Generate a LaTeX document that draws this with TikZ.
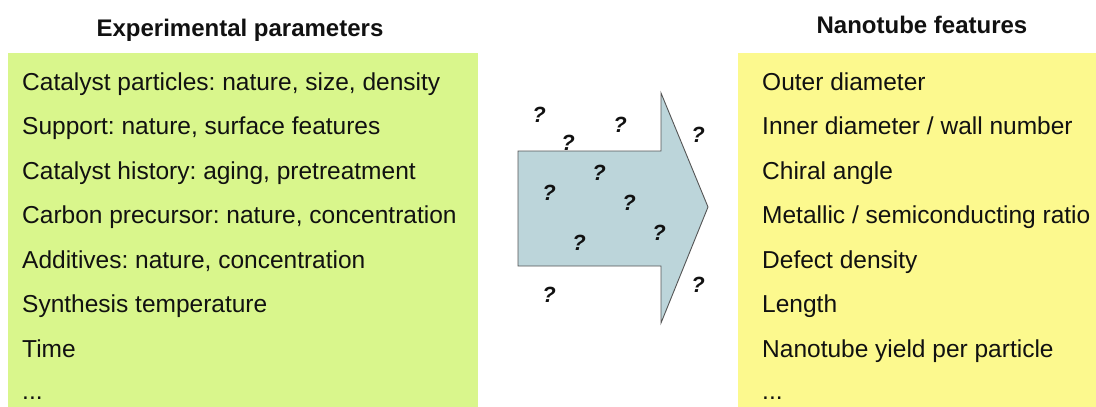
\documentclass[tikz,border=0pt]{standalone}
\usepackage{fontspec}
\setmainfont{Liberation Sans}
\frenchspacing
\definecolor{boxgreen}{HTML}{D9F68C}
\definecolor{boxyellow}{HTML}{FCF98E}
\definecolor{arrowfill}{HTML}{BCD5DA}
\definecolor{arrowline}{HTML}{555555}
\definecolor{ink}{HTML}{111111}
\begin{document}
\begin{tikzpicture}[x=1pt,y=-1pt,
  itemtext/.style={anchor=base west,inner sep=0pt,text=ink,font=\fontsize{24.5}{29}\selectfont},
  titletext/.style={anchor=base,inner sep=0pt,text=ink,font=\fontsize{24}{29}\selectfont\bfseries},
  qmark/.style={inner sep=0pt,text=ink,font=\fontsize{22}{26}\selectfont\bfseries\itshape}]
\useasboundingbox (0,0) rectangle (1096,407);
\fill[white] (0,0) rectangle (1096,407);
% boxes
\fill[boxgreen] (8,53) rectangle (478,407);
\fill[boxyellow] (738,53) rectangle (1096,407);
% titles
\node[titletext] (tl) at (240,36) {Experimental parameters};
\node[titletext] (tr) at (922,33) {Nanotube features};
% left items
\node[itemtext] (l1) at (22,90) {Catalyst particles: nature, size, density};
\node[itemtext] (l2) at (22,134.5) {Support: nature, surface features};
\node[itemtext] (l3) at (22,179) {Catalyst history: aging, pretreatment};
\node[itemtext] (l4) at (22,223.5) {Carbon precursor: nature, concentration};
\node[itemtext] (l5) at (22,268) {Additives: nature, concentration};
\node[itemtext] (l6) at (22,312.5) {Synthesis temperature};
\node[itemtext] (l7) at (22,357) {Time};
\node[itemtext] (l8) at (22,399) {...};
% right items
\node[itemtext] (r1) at (762,90) {Outer diameter};
\node[itemtext] (r2) at (762,134.5) {Inner diameter / wall number};
\node[itemtext] (r3) at (762,179) {Chiral angle};
\node[itemtext] (r4) at (762,223.5) {Metallic / semiconducting ratio};
\node[itemtext] (r5) at (762,268) {Defect density};
\node[itemtext] (r6) at (762,312.5) {Length};
\node[itemtext] (r7) at (762,357) {Nanotube yield per particle};
\node[itemtext] (r8) at (762,399) {...};
% arrow
\draw[fill=arrowfill,draw=arrowline,line width=0.9pt,line join=miter]
  (518,151) -- (661,151) -- (661,93) -- (708,207) -- (661,323) -- (661,266) -- (518,266) -- cycle;
% question marks
\node[qmark] (q1) at (539,115) {?};
\node[qmark] (q2) at (568,143) {?};
\node[qmark] (q3) at (620,125) {?};
\node[qmark] (q4) at (698,135) {?};
\node[qmark] (q5) at (599,173) {?};
\node[qmark] (q6) at (549,193) {?};
\node[qmark] (q7) at (629,203) {?};
\node[qmark] (q8) at (659,233) {?};
\node[qmark] (q9) at (579,243) {?};
\node[qmark] (q10) at (549,295) {?};
\node[qmark] (q11) at (698,285) {?};
\end{tikzpicture}
\end{document}
